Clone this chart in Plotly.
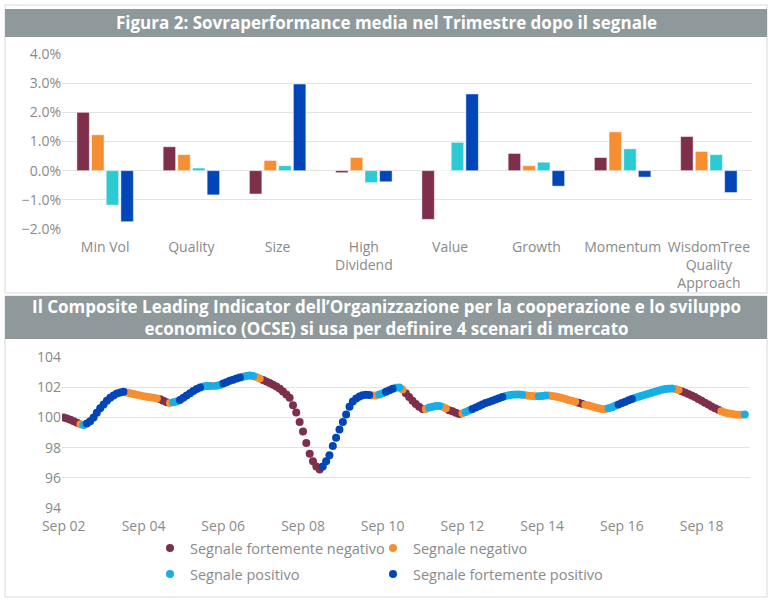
import pandas as pd
import plotly.graph_objects as go

W, H = 775, 605

# --- top chart: average outperformance in the quarter after the signal ---
categories = ["Min Vol", "Quality", "Size", "High<br>Dividend", "Value", "Growth",
              "Momentum", "WisdomTree<br>Quality<br>Approach"]
strong_neg = [2.00, 0.82, -0.80, -0.07, -1.67, 0.59, 0.45, 1.17]
neg = [1.23, 0.55, 0.35, 0.45, 0.00, 0.17, 1.33, 0.66]
pos = [-1.18, 0.09, 0.17, -0.41, 0.97, 0.29, 0.75, 0.55]
strong_pos = [-1.75, -0.83, 2.97, -0.38, 2.63, -0.53, -0.22, -0.75]

# --- bottom chart: OECD CLI monthly, from Sep 2002 ---
cli_start = "2002-09-01"
cli_values = [
    100.00, 99.92, 99.84, 99.75, 99.65, 99.55, 99.50, 99.60, 99.75, 100.00,
    100.30, 100.60, 100.85, 101.10, 101.30, 101.45, 101.58, 101.65, 101.70, 101.65,
    101.60, 101.55, 101.50, 101.45, 101.40, 101.37, 101.33, 101.30, 101.25, 101.20,
    101.10, 101.00, 100.95, 101.00, 101.05, 101.15, 101.30, 101.45, 101.60, 101.75,
    101.88, 101.98, 102.05, 102.08, 102.08, 102.08, 102.10, 102.15, 102.25, 102.33,
    102.42, 102.50, 102.58, 102.65, 102.70, 102.75, 102.78, 102.75, 102.68, 102.58,
    102.48, 102.38, 102.28, 102.17, 102.05, 101.90, 101.72, 101.52, 101.30, 100.80,
    100.33, 99.70, 99.07, 98.30, 97.60, 97.10, 96.75, 96.55, 96.75, 97.10,
    97.50, 98.10, 98.65, 99.20, 99.70, 100.20, 100.70, 101.05, 101.25, 101.38,
    101.47, 101.50, 101.48, 101.45, 101.45, 101.52, 101.60, 101.70, 101.80, 101.90,
    101.97, 101.98, 101.85, 101.60, 101.35, 101.10, 100.88, 100.70, 100.55, 100.55,
    100.65, 100.70, 100.75, 100.75, 100.70, 100.60, 100.48, 100.40, 100.30, 100.22,
    100.28, 100.35, 100.45, 100.55, 100.65, 100.75, 100.85, 100.95, 101.02, 101.10,
    101.18, 101.27, 101.35, 101.42, 101.47, 101.50, 101.52, 101.52, 101.50, 101.47,
    101.44, 101.42, 101.40, 101.40, 101.42, 101.45, 101.45, 101.42, 101.38, 101.33,
    101.28, 101.22, 101.16, 101.10, 101.03, 100.97, 100.90, 100.84, 100.78, 100.72,
    100.66, 100.60, 100.56, 100.55, 100.60, 100.68, 100.77, 100.86, 100.95, 101.04,
    101.13, 101.22, 101.30, 101.37, 101.43, 101.50, 101.57, 101.63, 101.70, 101.77,
    101.83, 101.88, 101.90, 101.92, 101.88, 101.82, 101.73, 101.65, 101.55, 101.45,
    101.35, 101.22, 101.10, 100.97, 100.85, 100.72, 100.60, 100.50, 100.40, 100.33,
    100.28, 100.24, 100.20, 100.18, 100.17, 100.20,
]
# signal per month as runs: M = fortemente negativo, O = negativo,
# L = positivo, D = fortemente positivo
signal_runs = [
    ("M", 5), ("O", 1), ("L", 1), ("D", 12), ("O", 10), ("M", 3), ("O", 1), ("L", 2),
    ("D", 7), ("L", 3), ("O", 1), ("L", 2), ("D", 6), ("L", 4), ("O", 2), ("M", 18),
    ("D", 15), ("O", 2), ("L", 2), ("D", 3), ("L", 2), ("O", 1), ("M", 6), ("O", 1),
    ("L", 4), ("O", 2), ("M", 4), ("O", 1), ("L", 2), ("D", 10), ("L", 6), ("O", 4),
    ("L", 3), ("O", 9), ("M", 2), ("O", 7), ("L", 3), ("D", 5), ("L", 12), ("O", 2),
    ("M", 12), ("O", 7), ("L", 1),
]
signal_names = {"M": "Segnale fortemente negativo", "O": "Segnale negativo",
                "L": "Segnale positivo", "D": "Segnale fortemente positivo"}
x_ticks = ["Sep 02", "Sep 04", "Sep 06", "Sep 08", "Sep 10", "Sep 12", "Sep 14",
           "Sep 16", "Sep 18"]

bar_colors = ["#7D2F4B", "#F68E32", "#2CCBD3", "#0046B8"]
sig_colors = {"M": "#7D2F4B", "O": "#F68E32", "L": "#17AEE6", "D": "#0046B8"}
FONT = "Open Sans"
GREY = "#8A8A8A"
BANNER = "#8F999C"


def px(x):
    return x / W


def py(y):
    return 1 - y / H


signal = []
for code, n in signal_runs:
    signal += [code] * n
dates = pd.date_range(cli_start, periods=len(cli_values), freq="MS")
cli = pd.DataFrame({"date": dates, "value": cli_values, "signal": signal})

fig = go.Figure()

series = [("Segnale fortemente negativo", strong_neg), ("Segnale negativo", neg),
          ("Segnale positivo", pos), ("Segnale fortemente positivo", strong_pos)]
for (name, vals), col in zip(series, bar_colors):
    fig.add_trace(go.Bar(x=categories, y=[v / 100 for v in vals], name=name,
                         marker=dict(color=col, line=dict(color="rgba(255,255,255,0.6)", width=0.8)),
                         showlegend=False, xaxis="x", yaxis="y"))

# one legend per entry so the 2x2 grid sits where the reference has it
legend_font = dict(family=FONT, size=14.5, color=GREY)
legend_pos = {"M": (150, 548), "O": (373, 548), "L": (150, 574), "D": (373, 574)}
legend_ids = {"M": "legend", "O": "legend2", "L": "legend3", "D": "legend4"}
for code in ["M", "O", "L", "D"]:
    d = cli[cli["signal"] == code]
    fig.add_trace(go.Scatter(x=d["date"], y=d["value"], mode="markers", name=signal_names[code],
                             marker=dict(color=sig_colors[code], size=8),
                             xaxis="x2", yaxis="y2", legend=legend_ids[code]))
    lx, ly = legend_pos[code]
    fig.update_layout({legend_ids[code]: dict(x=px(lx), y=py(ly), xanchor="left", yanchor="middle",
                                              itemwidth=30, font=legend_font,
                                              bgcolor="rgba(0,0,0,0)")})

tick_font = dict(family=FONT, size=14, color=GREY)
fig.update_layout(
    template="none",
    width=W, height=H, margin=dict(l=0, r=0, t=0, b=0, autoexpand=False),
    paper_bgcolor="white", plot_bgcolor="white",
    font=dict(family=FONT, color=GREY),
    barmode="group", bargap=0.32, bargroupgap=0.15,
    xaxis=dict(domain=[px(62), px(752)], anchor="y", tickfont=tick_font, ticks="",
               showline=False, showgrid=False, automargin=False, ticklabelstandoff=8),
    yaxis=dict(domain=[py(229), py(54)], range=[-0.02, 0.04], dtick=0.01, tickformat=".1%",
               tickfont=tick_font, gridcolor="#E3E3E3", zeroline=True, zerolinecolor="#E3E3E3",
               zerolinewidth=1, ticks="", showline=False, automargin=False),
    xaxis2=dict(domain=[px(62), px(750)], anchor="y2", range=["2002-08-16", "2019-11-18"],
                tickvals=pd.to_datetime(["%d-09-01" % y for y in range(2002, 2019, 2)]),
                ticktext=x_ticks, tickfont=tick_font, showgrid=False, ticks="", showline=False,
                automargin=False, ticklabelstandoff=8),
    yaxis2=dict(domain=[py(508), py(357)], range=[94, 104], dtick=2, tickfont=tick_font,
                gridcolor="#E3E3E3", zeroline=False, ticks="", showline=False, automargin=False),
)

# frames and title banners
shapes = [
    dict(type="rect", x0=px(5), x1=px(767), y0=py(293), y1=py(5), line=dict(color="#D9D9D9", width=1)),
    dict(type="rect", x0=px(5), x1=px(767), y0=py(597), y1=py(296), line=dict(color="#D9D9D9", width=1)),
    dict(type="rect", x0=px(5), x1=px(767), y0=py(37), y1=py(9), fillcolor=BANNER, line=dict(width=0)),
    dict(type="rect", x0=px(5), x1=px(767), y0=py(339), y1=py(296), fillcolor=BANNER, line=dict(width=0)),
]
for s in shapes:
    s.update(xref="paper", yref="paper", layer="below")
fig.update_layout(shapes=shapes)

fig.add_annotation(text="<b>Figura 2: Sovraperformance media nel Trimestre dopo il segnale</b>",
                   x=px(386), y=py(23), xref="paper", yref="paper", showarrow=False,
                   xanchor="center", yanchor="middle",
                   font=dict(family=FONT, size=17, color="white"))
fig.add_annotation(text="<b>Il Composite Leading Indicator dell’Organizzazione per la cooperazione e lo sviluppo"
                        "<br>economico (OCSE) si usa per definire 4 scenari di mercato</b>",
                   x=px(386), y=py(317), xref="paper", yref="paper", showarrow=False,
                   xanchor="center", yanchor="middle",
                   font=dict(family=FONT, size=17, color="white"))

fig.write_html("out.html", config={"displayModeBar": False},
               post_script="document.body.style.margin='0';")
